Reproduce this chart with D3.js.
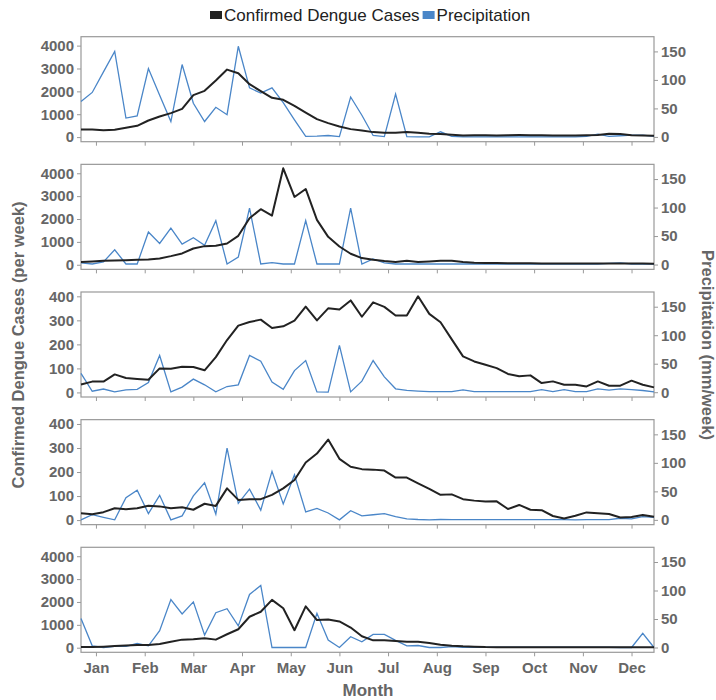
<!DOCTYPE html>
<html>
<head>
<meta charset="utf-8">
<script src="https://cdn.jsdelivr.net/npm/d3@7"></script>
<style>
  html, body { margin: 0; padding: 0; background: #fff; }
  svg { display: block; font-family: "Liberation Sans", Arial, sans-serif; }
</style>
</head>
<body>
<svg id="chart" width="716" height="700"></svg>
<script>
// ---- data (52 weeks per panel) ----
const months = ["Jan","Feb","Mar","Apr","May","Jun","Jul","Aug","Sep","Oct","Nov","Dec"];
const monthTickWeeks = [2.33, 6.67, 11, 15.33, 19.67, 24, 28.33, 32.67, 37, 41.33, 45.67, 50];

const cases1 = [332,335,305,320,406,493,725,900,1048,1236,1834,2022,2472,2952,2795,2314,2009,1716,1629,1367,1074,786,611,463,349,288,218,188,190,218,188,144,131,100,70,85,80,75,85,90,85,80,70,65,75,80,90,144,131,85,70,58];
const rain1  = [62,78,114,150,33,37,120,73,27,127,59,27,52,39,159,86,77,86,60,30,1,1.5,2.5,0.5,70,38,2.5,0.5,75,0.5,0,0,9,1,0,0,0,0,0,0,0,0,0,0,0,1,5,1,2,3,3,1];

const cases2 = [116,145,175,190,200,215,230,276,378,494,712,814,830,930,1265,2036,2429,2150,4217,2965,3314,1963,1221,799,480,291,218,160,116,175,116,145,175,175,116,90,80,75,70,65,65,60,60,60,58,55,55,60,60,55,50,45];
const rain2  = [3,1,4.6,26,1,1,57,37,64,36,47,34,77,1,13,99,1,3.5,1,1,77,1,1,1,99,1,10,3,1,1,1,1,1,1,1,1,1,1,1,1,1,1,1,1,1,1,1,2,3,1,1,1];

const cases3 = [33,45,45,75,60,56,53,100,99,107,106,92,147,218,278,293,303,268,275,299,357,300,350,345,383,315,375,356,320,320,400,327,292,221,150,129,115,101,77,67,71,39,46,32,32,25,46,28,28,49,32,21];
const rain3  = [33,1.7,5.6,0.6,4,5,17,64.5,0.6,9,23,13,0.6,10,13,64.5,54.5,18,5,38,55.6,0.6,0.3,82,0.6,19.5,55.6,27,6,3.3,2,1,1,1,4,1,1,1,1,1,1,4.5,1,4.5,1,1,6,3.5,6,4.5,3,0.6];

const cases4 = [28,24,33,49,45,49,60,57,49,53,43,68,59,132,84,87,87,105,132,167,240,277,335,255,222,212,210,206,177,177,153,130,105,107,87,81,77,78,46,63,43,41,17,7,18,32,28,25,11,13,21,14];
const rain4  = [0,9,4.5,0,39,52,11,43,0,7,42,65,10,126,29,54,17,85,28,79,14,20,12,0,16,7,9,11,5.6,1.7,0.6,0,0.6,0.5,0.5,0.5,0.5,0.5,0.5,0.5,0.5,0.5,0.5,0.5,0,0.5,0.5,0.5,2.8,1.7,5.6,4.5];

const cases5 = [27,27,44,70,100,115,115,160,263,353,368,412,353,588,808,1352,1573,2090,1722,765,1810,1206,1236,1148,883,500,323,323,294,265,265,205,131,88,59,44,27,25,22,20,20,20,20,20,18,18,18,18,18,18,18,18];
const rain5  = [51,3,0,2,2,7,3,29.5,84,59,80,22,61,68,38,93,109,0,0,0,0,60,13,0,19,10,23,23,12.4,3,3.5,0,0,1.5,0.5,0.5,0.5,0.5,0.5,0.5,0.5,0.5,0.5,0.5,0.5,0.5,0.5,0.5,0,0,25,0];

const casesSeries = [cases1, cases2, cases3, cases4, cases5];
const rainSeries  = [rain1, rain2, rain3, rain4, rain5];
const leftTickSets = [[0,1000,2000,3000,4000],[0,1000,2000,3000,4000],[0,100,200,300,400],[0,100,200,300,400],[0,1000,2000,3000,4000]];
const leftDomains = [[-201,4390],[-201,4390],[-19,418],[-19,418],[-201,4390]];
const rightTicks = [0,50,100,150];
const rightDomain = [-8.4,175.8];

// ---- layout ----
const svg = d3.select("#chart");
const left = 81, width = 573, panelH = 105, firstTop = 36.7, pitch = 127.65;
const textCol = "#666", axisCol = "#999";
const caseCol = "#222", rainCol = "#4a86c8";

const x = d3.scaleLinear().domain([1, 52]).range([left, left + width]);
const weeks = d3.range(1, 53);

casesSeries.forEach((cases, p) => {
  const top = firstTop + p * pitch;
  const yL = d3.scaleLinear().domain(leftDomains[p]).range([top + panelH, top]);
  const yR = d3.scaleLinear().domain(rightDomain).range([top + panelH, top]);
  const g = svg.append("g");

  // frame
  g.append("rect").attr("x", left).attr("y", top).attr("width", width).attr("height", panelH)
    .attr("fill", "none").attr("stroke", axisCol).attr("stroke-width", 1.2);

  // left axis
  const la = g.append("g").attr("transform", `translate(${left},0)`)
    .call(d3.axisLeft(yL).tickValues(leftTickSets[p]).tickSize(4).tickPadding(3).tickFormat(d3.format("d")));
  // right axis
  const ra = g.append("g").attr("transform", `translate(${left + width},0)`)
    .call(d3.axisRight(yR).tickValues(rightTicks).tickSize(4).tickPadding(3));
  // bottom axis
  const ba = g.append("g").attr("transform", `translate(0,${top + panelH})`)
    .call(d3.axisBottom(x).tickValues(monthTickWeeks).tickSize(4).tickPadding(6)
      .tickFormat((d, i) => p === casesSeries.length - 1 ? months[i] : ""));

  [la, ra, ba].forEach(a => {
    a.select(".domain").remove();
    a.selectAll(".tick line").attr("stroke", axisCol);
    a.selectAll(".tick text").attr("fill", textCol).attr("font-size", 15).attr("font-weight", "bold");
  });

  // lines
  const lineR = d3.line().x((d, i) => x(weeks[i])).y(d => yR(d));
  const lineL = d3.line().x((d, i) => x(weeks[i])).y(d => yL(d));
  g.append("path").datum(rainSeries[p]).attr("d", lineR)
    .attr("fill", "none").attr("stroke", rainCol).attr("stroke-width", 1.3);
  g.append("path").datum(cases).attr("d", lineL)
    .attr("fill", "none").attr("stroke", caseCol).attr("stroke-width", 2).attr("stroke-linejoin", "round");
});

// axis titles
svg.append("text").attr("transform", "translate(24,345) rotate(-90)")
  .attr("text-anchor", "middle").attr("fill", textCol).attr("font-size", 16.5).attr("font-weight", "bold")
  .text("Confirmed Dengue Cases (per week)");
svg.append("text").attr("transform", "translate(702,345) rotate(90)")
  .attr("text-anchor", "middle").attr("fill", textCol).attr("font-size", 16.5).attr("font-weight", "bold")
  .text("Precipitation (mm/week)");
svg.append("text").attr("x", 368).attr("y", 696)
  .attr("text-anchor", "middle").attr("fill", textCol).attr("font-size", 17).attr("font-weight", "bold")
  .text("Month");

// legend
const legendItems = [{label: "Confirmed Dengue Cases", color: caseCol}, {label: "Precipitation", color: rainCol}];
const lg = svg.append("g");
let lx = 210;
legendItems.forEach(item => {
  lg.append("rect").attr("x", lx).attr("y", 11).attr("width", 12).attr("height", 8).attr("fill", item.color);
  const t = lg.append("text").attr("x", lx + 14).attr("y", 21).attr("font-size", 17).attr("fill", "#222")
    .text(item.label);
  lx += 14 + t.node().getComputedTextLength() + 3;
});
</script>
</body>
</html>
